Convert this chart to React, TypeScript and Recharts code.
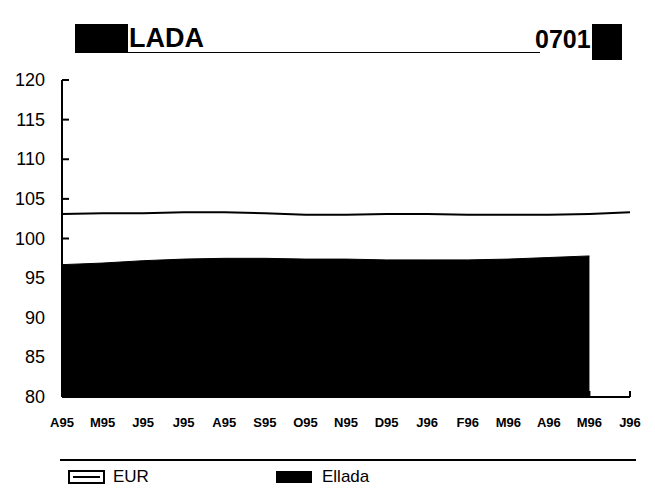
import React from "react"
import { ComposedChart, Area, Line, XAxis, YAxis } from "recharts"

const months = ["A95", "M95", "J95", "J95", "A95", "S95", "O95", "N95", "D95", "J96", "F96", "M96", "A96", "M96", "J96"]
const eur = [103.1, 103.2, 103.2, 103.3, 103.3, 103.2, 103.0, 103.0, 103.1, 103.1, 103.0, 103.0, 103.0, 103.1, 103.3]
const ellada = [96.7, 96.9, 97.2, 97.4, 97.5, 97.5, 97.4, 97.4, 97.3, 97.3, 97.3, 97.4, 97.6, 97.8, null]
const yTicks = [80, 85, 90, 95, 100, 105, 110, 115, 120]

const data = months.map((m, i) => ({ month: m, eur: eur[i], ellada: ellada[i] }))

const font = "'Liberation Sans', Arial, Helvetica, sans-serif"

function YTick(props: any) {
  const { x, y, payload } = props
  return (
    <g>
      <line x1={x + 8} y1={y} x2={x + 15} y2={y} stroke="#000" strokeWidth={2} />
      <text x={x - 9} y={y} dy={6} textAnchor="end" fontSize={18} fontFamily={font} fill="#000">
        {payload.value}
      </text>
    </g>
  )
}

function XTick(props: any) {
  const { x, y, payload } = props
  return (
    <g>
      <line x1={x} y1={y - 2} x2={x} y2={y - 8} stroke="#000" strokeWidth={2} />
      <text x={x} y={y + 28} textAnchor="middle" fontSize={13} fontWeight="bold" fontFamily={font} fill="#000">
        {payload.value}
      </text>
    </g>
  )
}

export default function App() {
  return (
    <div style={{ position: "absolute", left: 0, top: 0, width: 655, height: 490, background: "#fff", fontFamily: font }}>
      {/* header */}
      <div style={{ position: "absolute", left: 75, top: 24, width: 53, height: 29, background: "#000" }} />
      <div style={{ position: "absolute", left: 129, top: 22, fontSize: 27, fontWeight: "bold", lineHeight: "32px" }}>LADA</div>
      <div style={{ position: "absolute", left: 75, top: 52, width: 465, height: 1, background: "#000" }} />
      <div style={{ position: "absolute", left: 535, top: 23, fontSize: 25, fontWeight: "bold", lineHeight: "32px" }}>0701</div>
      <div style={{ position: "absolute", left: 592, top: 24, width: 30, height: 36, background: "#000" }} />

      <div style={{ position: "absolute", left: 0, top: 0 }}>
        <ComposedChart width={655} height={440} data={data} margin={{ top: 80, right: 25, bottom: 13, left: 8 }}>
          <XAxis
            dataKey="month"
            interval={0}
            height={30}
            tickSize={0}
            axisLine={{ stroke: "#000", strokeWidth: 2 }}
            tickLine={false}
            tick={<XTick />}
          />
          <YAxis
            domain={[80, 120]}
            ticks={yTicks}
            width={54}
            axisLine={{ stroke: "#000", strokeWidth: 2 }}
            tickLine={false}
            tick={<YTick />}
          />
          <Area
            dataKey="ellada"
            type="linear"
            stroke="#000"
            strokeWidth={1}
            fill="#000"
            fillOpacity={1}
            baseValue={80}
            isAnimationActive={false}
          />
          <Line dataKey="eur" type="linear" stroke="#000" strokeWidth={2} dot={false} isAnimationActive={false} />
        </ComposedChart>
      </div>

      {/* legend */}
      <div style={{ position: "absolute", left: 60, top: 459, width: 576, height: 2, background: "#000" }} />
      <div style={{ position: "absolute", left: 68, top: 470, width: 33, height: 10, border: "2px solid #000", background: "#fff" }}>
        <div style={{ position: "absolute", left: 3, top: 4, width: 27, height: 2, background: "#000" }} />
      </div>
      <div style={{ position: "absolute", left: 113, top: 466, fontSize: 17, lineHeight: "22px" }}>EUR</div>
      <div style={{ position: "absolute", left: 276, top: 471, width: 36, height: 12, background: "#000" }} />
      <div style={{ position: "absolute", left: 322, top: 466, fontSize: 17, lineHeight: "22px" }}>Ellada</div>
    </div>
  )
}
